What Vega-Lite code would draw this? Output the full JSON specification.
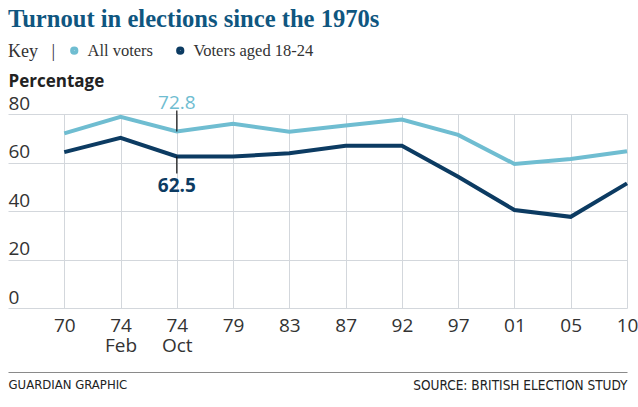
{
  "$schema": "https://vega.github.io/schema/vega-lite/v6.json",
  "width": 619,
  "height": 194,
  "autosize": {"type": "none"},
  "padding": {"left": 8, "top": 114, "right": 11, "bottom": 99},
  "background": "#ffffff",
  "title": {
    "text": "Turnout in elections since the 1970s",
    "anchor": "start",
    "font": "Liberation Serif",
    "fontSize": 24.6,
    "fontWeight": "bold",
    "color": "#0f5680",
    "offset": 9
  },
  "config": {
    "view": {"stroke": null},
    "font": "Open Sans"
  },
  "data": {
    "values": [
      {"election": "70", "series": "All voters", "value": 72.0},
      {"election": "74 Feb", "series": "All voters", "value": 78.8},
      {"election": "74 Oct", "series": "All voters", "value": 72.8},
      {"election": "79", "series": "All voters", "value": 76.0},
      {"election": "83", "series": "All voters", "value": 72.7},
      {"election": "87", "series": "All voters", "value": 75.3},
      {"election": "92", "series": "All voters", "value": 77.7},
      {"election": "97", "series": "All voters", "value": 71.4},
      {"election": "01", "series": "All voters", "value": 59.4},
      {"election": "05", "series": "All voters", "value": 61.4},
      {"election": "10", "series": "All voters", "value": 64.6},
      {"election": "70", "series": "Voters aged 18-24", "value": 64.3},
      {"election": "74 Feb", "series": "Voters aged 18-24", "value": 70.2},
      {"election": "74 Oct", "series": "Voters aged 18-24", "value": 62.5},
      {"election": "79", "series": "Voters aged 18-24", "value": 62.5},
      {"election": "83", "series": "Voters aged 18-24", "value": 63.8},
      {"election": "87", "series": "Voters aged 18-24", "value": 66.9},
      {"election": "92", "series": "Voters aged 18-24", "value": 66.9},
      {"election": "97", "series": "Voters aged 18-24", "value": 54.1},
      {"election": "01", "series": "Voters aged 18-24", "value": 40.4},
      {"election": "05", "series": "Voters aged 18-24", "value": 37.6},
      {"election": "10", "series": "Voters aged 18-24", "value": 51.4}
    ]
  },
  "resolve": {"axis": {"x": "independent"}},
  "layer": [
    {
      "mark": {"type": "line", "strokeWidth": 4, "strokeJoin": "miter"},
      "encoding": {
        "x": {
          "field": "election",
          "type": "ordinal",
          "sort": ["70", "74 Feb", "74 Oct", "79", "83", "87", "92", "97", "01", "05", "10"],
          "scale": {"type": "point", "paddingOuter": 0.556, "align": 1},
          "axis": {
            "orient": "bottom",
            "title": null,
            "domain": false,
            "ticks": false,
            "grid": true,
            "gridColor": "#d3d7dc",
            "gridWidth": 1,
            "labelAngle": 0,
            "labelExpr": "split(datum.label, ' ')",
            "labelFont": "Open Sans",
            "labelFontSize": 19,
            "labelColor": "#333333",
            "labelLineHeight": 20,
            "labelPadding": 8,
            "labelBaseline": "top"
          }
        },
        "y": {
          "field": "value",
          "type": "quantitative",
          "scale": {"domain": [0, 80], "nice": false},
          "axis": {
            "values": [0, 20, 40, 60, 80],
            "title": "Percentage",
            "titleAngle": 0,
            "titleAlign": "left",
            "titleBaseline": "alphabetic",
            "titleX": 0,
            "titleY": -28,
            "titleFont": "Open Sans",
            "titleFontSize": 17,
            "titleFontWeight": "bold",
            "titleColor": "#222222",
            "domain": false,
            "ticks": false,
            "tickSize": 0,
            "grid": true,
            "gridColor": "#d3d7dc",
            "gridWidth": 1,
            "labelAlign": "left",
            "labelBaseline": "alphabetic",
            "labelPadding": 0,
            "labelOffset": -5,
            "labelFont": "Open Sans",
            "labelFontSize": 19,
            "labelColor": "#333333"
          }
        },
        "color": {
          "field": "series",
          "type": "nominal",
          "scale": {"domain": ["All voters", "Voters aged 18-24"], "range": ["#6fbdd1", "#0c3b62"]},
          "legend": {
            "orient": "none",
            "legendX": 0,
            "legendY": -72,
            "direction": "horizontal",
            "title": "Key\u00a0\u00a0\u00a0|",
            "titleOrient": "left",
            "titleFont": "Liberation Serif",
            "titleFontSize": 18,
            "titleFontWeight": "normal",
            "titleColor": "#333333",
            "titlePadding": 10,
            "symbolType": "circle",
            "symbolSize": 14,
            "symbolStrokeWidth": 4.5,
            "labelFont": "Liberation Serif",
            "labelFontSize": 16.5,
            "labelColor": "#333333",
            "labelOffset": 5,
            "columnPadding": 15
          }
        }
      }
    },
    {
      "transform": [{"filter": "datum.election == '74 Oct' && datum.series == 'All voters'"}],
      "mark": {"type": "rule", "color": "#111111", "strokeWidth": 1.2, "y2Offset": -21},
      "encoding": {
        "x": {
          "field": "election",
          "type": "ordinal",
          "sort": ["70", "74 Feb", "74 Oct", "79", "83", "87", "92", "97", "01", "05", "10"],
          "axis": {
            "orient": "bottom",
            "offset": 64,
            "labels": false,
            "ticks": false,
            "grid": false,
            "domain": true,
            "domainColor": "#8a8a8a",
            "domainWidth": 1.2,
            "title": "GUARDIAN GRAPHIC",
            "titleAnchor": "start",
            "titleFont": "DejaVu Sans Condensed, Roboto",
            "titleFontSize": 13,
            "titleFontWeight": "normal",
            "titleColor": "#222222",
            "titlePadding": 6,
            "titleBaseline": "top"
          }
        },
        "y": {"field": "value", "type": "quantitative"},
        "y2": {"field": "value"}
      }
    },
    {
      "transform": [{"filter": "datum.election == '74 Oct' && datum.series == 'Voters aged 18-24'"}],
      "mark": {"type": "rule", "color": "#111111", "strokeWidth": 1.2, "y2Offset": 17},
      "encoding": {
        "x": {
          "field": "election",
          "type": "ordinal",
          "sort": ["70", "74 Feb", "74 Oct", "79", "83", "87", "92", "97", "01", "05", "10"],
          "axis": {
            "orient": "bottom",
            "offset": 64,
            "labels": false,
            "ticks": false,
            "grid": false,
            "domain": false,
            "title": "SOURCE: BRITISH ELECTION STUDY",
            "titleAnchor": "end",
            "titleFont": "DejaVu Sans Condensed, Roboto",
            "titleFontSize": 13.5,
            "titleFontWeight": "normal",
            "titleColor": "#222222",
            "titlePadding": 6,
            "titleBaseline": "top"
          }
        },
        "y": {"field": "value", "type": "quantitative"},
        "y2": {"field": "value"}
      }
    },
    {
      "transform": [{"filter": "datum.election == '74 Oct' && datum.series == 'All voters'"}],
      "mark": {"type": "text", "font": "Open Sans", "fontSize": 19, "baseline": "alphabetic", "align": "center", "dy": -22, "color": "#6fbdd1"},
      "encoding": {
        "x": {"field": "election", "type": "ordinal", "sort": ["70", "74 Feb", "74 Oct", "79", "83", "87", "92", "97", "01", "05", "10"], "axis": null},
        "y": {"field": "value", "type": "quantitative"},
        "text": {"field": "value", "type": "quantitative", "format": ".1f"}
      }
    },
    {
      "transform": [{"filter": "datum.election == '74 Oct' && datum.series == 'Voters aged 18-24'"}],
      "mark": {"type": "text", "font": "Open Sans", "fontSize": 19, "fontWeight": "bold", "baseline": "top", "align": "center", "dy": 21, "color": "#0c3b62"},
      "encoding": {
        "x": {"field": "election", "type": "ordinal", "sort": ["70", "74 Feb", "74 Oct", "79", "83", "87", "92", "97", "01", "05", "10"], "axis": null},
        "y": {"field": "value", "type": "quantitative"},
        "text": {"field": "value", "type": "quantitative", "format": ".1f"}
      }
    }
  ]
}
